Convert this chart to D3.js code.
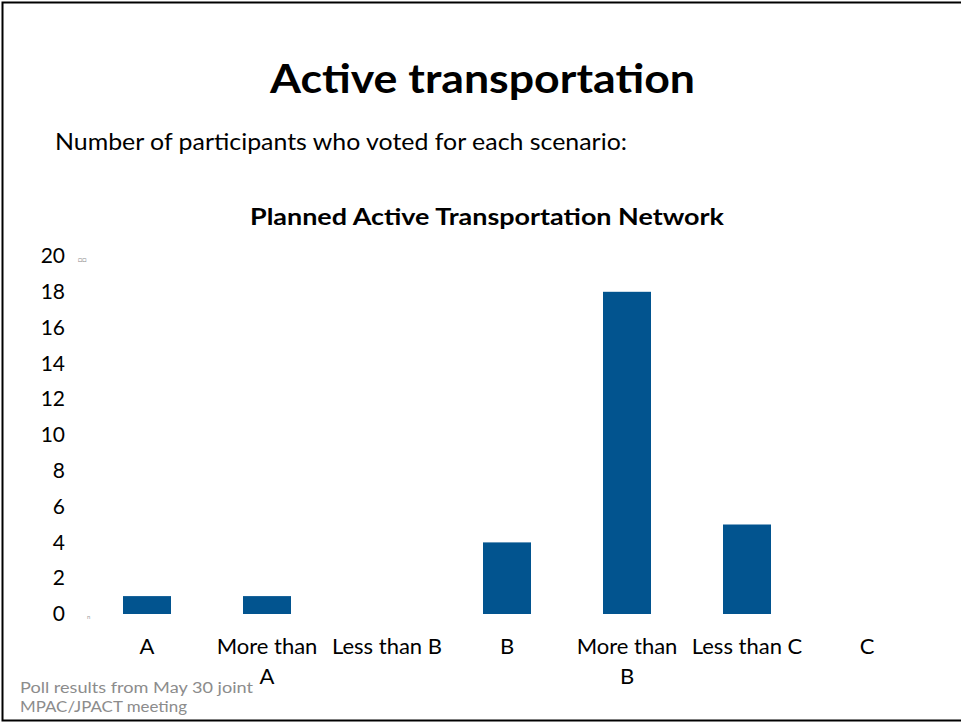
<!DOCTYPE html>
<html>
<head>
<meta charset="utf-8">
<script src="https://cdn.jsdelivr.net/npm/d3@7"></script>
<style>
  html, body { margin: 0; padding: 0; background: #fff; }
  svg { display: block; font-family: Lato, "Open Sans", sans-serif; }
</style>
</head>
<body>
<svg id="slide" width="961" height="723"></svg>
<script>
// Poll categories and vote counts
const categories = ["A", "More than A", "Less than B", "B", "More than B", "Less than C", "C"];
const votes = [1, 1, 0, 4, 18, 5, 0];
// Category labels as they wrap under the axis
const categoryLines = [["A"], ["More than", "A"], ["Less than B"], ["B"], ["More than", "B"], ["Less than C"], ["C"]];
const yTicks = [0, 2, 4, 6, 8, 10, 12, 14, 16, 18, 20];

const svg = d3.select("#slide");

// slide frame (top, left and bottom edges)
svg.append("path")
  .attr("d", "M961,2.5H2.5V720.5H961")
  .attr("fill", "none")
  .attr("stroke", "#000")
  .attr("stroke-width", 2);

// slide heading
svg.append("text")
  .attr("x", 482.5).attr("y", 93)
  .attr("text-anchor", "middle")
  .attr("font-weight", "bold")
  .attr("font-size", 40)
  .attr("textLength", 425)
  .attr("lengthAdjust", "spacingAndGlyphs")
  .attr("fill", "#000")
  .text("Active transportation");

svg.append("text")
  .attr("x", 55).attr("y", 150)
  .attr("font-size", 24)
  .attr("textLength", 572)
  .attr("lengthAdjust", "spacingAndGlyphs")
  .attr("fill", "#000")
  .text("Number of participants who voted for each scenario:");

// chart title
svg.append("text")
  .attr("x", 487).attr("y", 225)
  .attr("text-anchor", "middle")
  .attr("font-weight", "bold")
  .attr("font-size", 23)
  .attr("textLength", 474)
  .attr("lengthAdjust", "spacingAndGlyphs")
  .attr("fill", "#000")
  .text("Planned Active Transportation Network");

const x = d3.scaleBand()
  .domain(categories)
  .range([87, 927])
  .paddingInner(0.6)
  .paddingOuter(0.3);

const y = d3.scaleLinear()
  .domain([0, 20])
  .range([614, 256]);

// y axis: labels only
const yAxis = svg.append("g")
  .attr("transform", "translate(70,0)")
  .call(d3.axisLeft(y).tickValues(yTicks).tickSize(0).tickPadding(5));
yAxis.select(".domain").remove();
yAxis.selectAll("text")
  .attr("font-family", "Lato, 'Open Sans', sans-serif")
  .attr("font-size", 21)
  .attr("fill", "#000");

// bars
svg.append("g")
  .selectAll("rect")
  .data(votes)
  .join("rect")
  .attr("x", (d, i) => x(categories[i]))
  .attr("y", d => y(d))
  .attr("width", x.bandwidth())
  .attr("height", d => y(0) - y(d))
  .attr("fill", "#02548f");

// x axis: wrapped category labels
const xAxis = svg.append("g")
  .attr("transform", "translate(0,614)")
  .call(d3.axisBottom(x).tickSize(0).tickFormat(""));
xAxis.select(".domain").remove();
xAxis.selectAll(".tick").each(function (d, i) {
  const t = d3.select(this).append("text")
    .attr("text-anchor", "middle")
    .attr("font-family", "Lato, 'Open Sans', sans-serif")
    .attr("font-size", 22)
    .attr("fill", "#000");
  categoryLines[i].forEach((line, j) => {
    t.append("tspan").attr("x", 0).attr("y", 40 + j * 30).text(line);
  });
});

// small marks beside the value axis
svg.append("text")
  .attr("x", 78).attr("y", 262)
  .attr("font-size", 7)
  .attr("fill", "#888")
  .text("□□");
svg.append("text")
  .attr("x", 87).attr("y", 619)
  .attr("font-size", 6)
  .attr("fill", "#999")
  .text("n");

// footnote
const note = svg.append("text")
  .attr("font-size", 15.5)
  .attr("fill", "#8c8c8c")
  .attr("lengthAdjust", "spacingAndGlyphs");
note.append("tspan").attr("x", 20).attr("y", 693)
  .attr("textLength", 233).attr("lengthAdjust", "spacingAndGlyphs")
  .text("Poll results from May 30  joint");
note.append("tspan").attr("x", 20).attr("y", 712)
  .attr("textLength", 167).attr("lengthAdjust", "spacingAndGlyphs")
  .text("MPAC/JPACT meeting");
</script>
</body>
</html>
